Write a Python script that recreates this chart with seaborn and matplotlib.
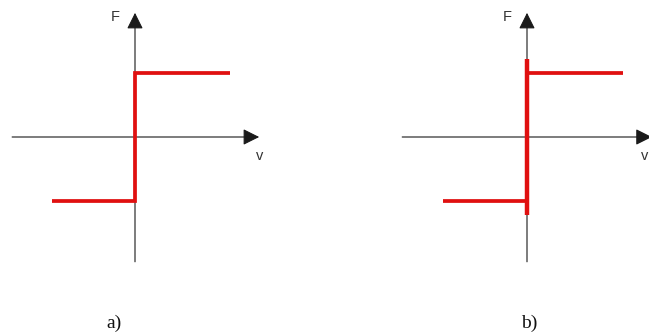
import matplotlib
matplotlib.use("Agg")
import matplotlib.pyplot as plt
import numpy as np
import pandas as pd
import seaborn as sns

sns.set_theme(style="white")
plt.rcParams["font.family"] = ["Liberation Sans", "DejaVu Sans"]

# Friction characteristic F(v): a) ideal Coulomb step, b) Coulomb + static (stiction) band
v_a = [-1.30, 0.0, 0.0, 1.48]
F_a = [-1.0, -1.0, 1.0, 1.0]

v_b_low = [-1.31, 0.0]
F_b_low = [-1.0, -1.0]
v_b_high = [0.0, 1.50]
F_b_high = [1.0, 1.0]
v_b_stick = [0.0, 0.0]
F_b_stick = [-1.22, 1.22]

panel_labels = ["a)", "b)"]
axis_labels = ["F", "v"]

RED = "#e01010"
W, H, DPI = 649, 336, 100
S = 64.0  # pixels per unit on both axes

fig = plt.figure(figsize=(W / DPI, H / DPI), dpi=DPI)


def make_axes(ox, oy, x0, x1, y0, y1):
    """Axes covering pixel box [x0,x1]x[y0,y1] with the origin at pixel (ox, oy)."""
    ax = fig.add_axes([x0 / W, 1 - y1 / H, (x1 - x0) / W, (y1 - y0) / H])
    ax.set_xlim((x0 - ox) / S, (x1 - ox) / S)
    ax.set_ylim((oy - y1) / S, (oy - y0) / S)
    ax.axis("off")
    return ax


def draw_axes(ax, xl, xr, yb, yt, v_x):
    arrow = dict(arrowstyle="-|>,head_length=0.9,head_width=0.45", color="#1a1a1a",
                 lw=0.8, mutation_scale=11, shrinkA=0, shrinkB=0)
    ax.annotate("", xy=(xr, 0), xytext=(xl, 0), arrowprops=arrow,
                annotation_clip=False, zorder=1)
    ax.annotate("", xy=(0, yt), xytext=(0, yb), arrowprops=arrow,
                annotation_clip=False, zorder=1)
    ax.text(-0.31, 1.875, axis_labels[0], fontsize=10.5, color="#333333",
            ha="center", va="center")
    ax.text(v_x, -0.30, axis_labels[1], fontsize=10.5, color="#333333",
            ha="center", va="center", clip_on=False)


def red_line(ax, v, F, lw=2.7):
    df = pd.DataFrame({"v": v, "F": F})
    sns.lineplot(data=df, x="v", y="F", ax=ax, sort=False, estimator=None,
                 color=RED, lw=lw, solid_capstyle="butt", solid_joinstyle="miter",
                 zorder=5)


# Panel a
ax_a = make_axes(135, 137, 0, 290, 0, 280)
draw_axes(ax_a, -1.92, 1.94, -1.95, 1.94, 1.95)
red_line(ax_a, v_a, F_a)
ax_a.set_xlabel("")
ax_a.set_ylabel("")

# Panel b
ax_b = make_axes(527, 137, 380, 649, 0, 280)
draw_axes(ax_b, -1.95, 1.95, -1.95, 1.94, 1.84)
red_line(ax_b, v_b_low, F_b_low)
red_line(ax_b, v_b_high, F_b_high)
red_line(ax_b, v_b_stick, F_b_stick, lw=3.2)
ax_b.set_xlabel("")
ax_b.set_ylabel("")

for x_px, lab in zip([114, 529], panel_labels):
    fig.text(x_px / W, 1 - 323 / H, lab, fontsize=14, family="Liberation Serif",
             ha="center", va="center", color="#111111")

fig.savefig("out.png", dpi=DPI)
